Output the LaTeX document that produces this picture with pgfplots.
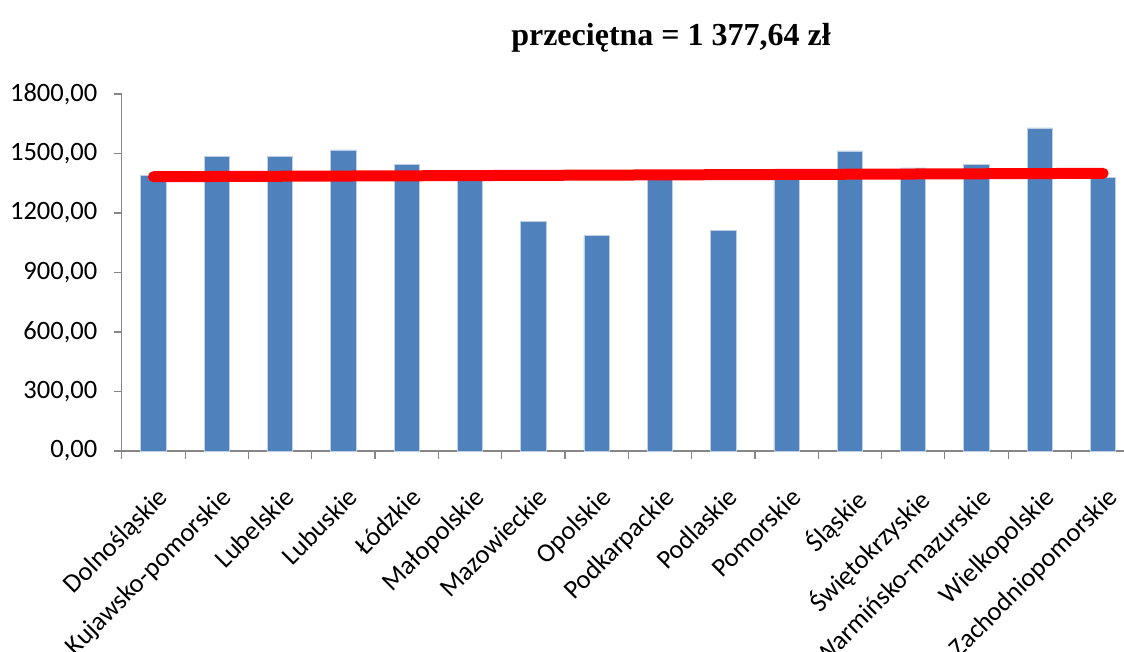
\documentclass[border=0pt]{standalone}
\usepackage{fontspec}
\setmainfont{Carlito}
\newfontfamily\titlefont{Liberation Serif}
\usepackage{pgfplots}
\pgfplotsset{compat=1.18}
\definecolor{barblue}{RGB}{79,129,189}
\definecolor{baredge}{RGB}{190,208,230}
\definecolor{axisgray}{RGB}{134,134,134}

\begin{document}
\begin{tikzpicture}
  \useasboundingbox (0,0) rectangle (1124pt,651pt);
  \begin{axis}[
      at={(121.8pt,200pt)}, anchor=south west,
      scale only axis,
      width=1002.2pt, height=357pt,
      xmin=-0.5, xmax=15.33,
      ymin=0, ymax=1800,
      axis x line*=bottom, axis y line*=left,
      axis line style={draw=axisgray, line width=1.2pt},
      every tick/.style={draw=axisgray, line width=1.2pt},
      tick align=outside,
      major tick length=8pt, minor tick length=8pt,
      major x tick style={draw=none},
      ytick={0,300,...,1800},
      xtick={0,...,15},
      minor xtick={-0.5,0.5,...,14.5},
      xticklabels={Dolnośląskie,Kujawsko-pomorskie,Lubelskie,Lubuskie,Łódzkie,Małopolskie,Mazowieckie,Opolskie,Podkarpackie,Podlaskie,Pomorskie,Śląskie,Świętokrzyskie,Warmińsko-mazurskie,Wielkopolskie,Zachodniopomorskie},
      xticklabel style={rotate=45, anchor=north east, font=\fontsize{26.5}{30}\selectfont, inner sep=2pt, xshift=-15pt, yshift=-19pt},
      yticklabel style={font=\fontsize{26.5}{30}\selectfont, xshift=-13pt},
      /pgf/number format/assume math mode=true,
      yticklabel={\pgfmathprintnumber[fixed, fixed zerofill, precision=2, use comma, 1000 sep={}]{\tick}},
      title={\titlefont\bfseries przeciętna = 1 377,64 zł},
      title style={at={(axis description cs:0.548,1.14)}, anchor=center, font=\fontsize{32}{36}\selectfont},
    ]
    \addplot[ybar, bar width=0.4, fill=barblue, draw=baredge, line width=0.8pt]
      coordinates {
        (0,1388) (1,1486) (2,1486) (3,1518) (4,1447) (5,1395)
        (6,1156) (7,1086) (8,1390) (9,1111) (10,1400) (11,1513)
        (12,1427) (13,1447) (14,1629) (15,1377)
      };
    \addplot[red, line width=11pt, line cap=round]
      coordinates {(0,1383) (15,1400)};
  \end{axis}
\end{tikzpicture}
\end{document}
